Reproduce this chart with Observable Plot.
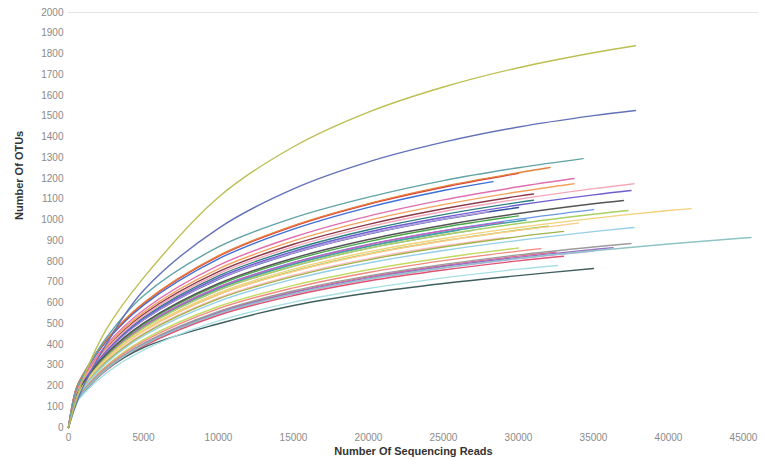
<!DOCTYPE html>
<html>
<head>
<meta charset="utf-8">
<script src="https://cdn.jsdelivr.net/npm/d3@7"></script>
<script src="https://cdn.jsdelivr.net/npm/@observablehq/plot@0.6"></script>
<style>
  html, body { margin: 0; padding: 0; background: #fff; }
  #chart { width: 765px; height: 460px; }
</style>
</head>
<body>
<div id="chart"></div>
<script>
const depths = [0, 500, 1000, 2500, 5000, 10000, 15000, 20000, 25000, 30000, 35000, 40000, 45000];

const sampleNames = [
  "S01","S02","S03","S04","S05","S06","S07","S08","S09","S10",
  "S11","S12","S13","S14","S15","S16","S17","S18","S19","S20",
  "S21","S22","S23","S24","S25","S26","S27","S28","S29","S30",
  "S31","S32","S33","S34","S35","S36","S37","S38"
];

const sampleColors = [
  "#bcbf52","#6272b8","#62a3a6","#e5823c","#df6fb0","#f2a25e","#f4aabb","#6d5fd0","#555555","#f3d27c",
  "#a9d062","#95cfe8","#8fc3c6","#9c9c9c","#9c6cc8","#a8dfe6","#3f5e5e","#d8383f","#3d6fd6","#4aa84a",
  "#c062c0","#b39ddb","#f08a80","#a3b348","#44a3a3","#ffbcc8","#ffca8c","#6a98e8","#62a0a2","#e05272",
  "#c4a6e6","#c4da64","#2f8080","#9fb0d6","#8b3a4a","#3050a0","#88d040","#e86a8a"
];

// Last point of each curve (total reads, OTUs)
const endReads = [
  37800,37800,34300,32100,33700,33700,37700,37500,37000,41500,
  37300,37700,45500,37500,36300,32600,35000,30000,28300,30000,
  29000,28000,31500,33000,30500,29000,34000,35000,26000,33000,
  35000,30000,31000,27000,31000,30000,32000,32500
];
const endOTUs = [
  1840,1528,1296,1253,1200,1175,1175,1142,1094,1055,
  1046,964,916,887,867,781,766,1225,1185,1020,
  990,1040,862,945,1000,915,985,1050,950,825,
  850,865,1095,950,1125,1060,970,845
];

// OTU counts at each depth below the curve's end
const otuValues = [
  [0,130,240,470,721,1110,1353,1520,1641,1734,1806],
  [0,110,200,400,660,960,1150,1280,1375,1448,1503],
  [0,180,255,430,635,870,1010,1110,1190,1252],
  [0,185,260,420,600,828,973,1079,1162,1228],
  [0,175,245,397,566,781,918,1019,1097,1160],
  [0,171,240,388,555,765,899,998,1074,1136],
  [0,166,233,376,538,741,871,967,1041,1100,1151],
  [0,161,226,367,524,722,849,942,1013,1072,1121],
  [0,155,218,353,503,694,816,906,975,1031,1078],
  [0,145,204,330,471,649,763,847,911,964,1008,1046],
  [0,148,208,336,480,662,778,864,929,983,1028],
  [0,136,191,309,441,608,715,793,853,902,944],
  [0,123,172,279,398,549,645,716,770,815,852,884,913],
  [0,125,176,284,406,560,659,731,786,832,870],
  [0,124,173,281,401,553,650,721,776,820,858],
  [0,115,161,261,373,514,604,670,721,763],
  [0,120,170,278,385,500,588,648,694,732],
  [0,184,259,419,598,825,970,1076,1158],
  [0,182,255,413,590,813,956,1061,1142],
  [0,154,216,349,498,687,808,896,965],
  [0,151,212,343,490,676,794,881,948],
  [0,160,225,364,519,716,842,934,1005],
  [0,128,180,291,415,573,673,747,804,850],
  [0,139,194,315,449,620,728,808,870,920],
  [0,150,210,340,486,670,788,874,941,995],
  [0,140,196,317,453,624,734,814,876],
  [0,143,201,325,464,640,752,835,899,950],
  [0,151,212,343,490,676,795,882,949,1004],
  [0,149,210,339,485,668,786,872,938],
  [0,121,170,275,392,541,636,706,759,803],
  [0,122,172,278,397,547,643,714,768,813],
  [0,130,183,296,423,583,685,760,818],
  [0,163,229,371,530,731,859,953,1026,1085],
  [0,148,207,336,480,661,777,863,928],
  [0,168,236,381,545,751,883,979,1054,1115],
  [0,160,224,363,518,714,840,932,1003],
  [0,143,201,326,465,641,754,837,900,952],
  [0,124,175,283,403,556,654,726,781,826]
];

const yTicks = d3.range(0, 2001, 100);
const xTicks = d3.range(0, 45001, 5000);
const yTitle = "Number Of OTUs";
const xTitle = "Number Of Sequencing Reads";

// Build long-format rows
const rows = [];
const order = d3.range(sampleNames.length).reverse();
for (const i of order) {
  otuValues[i].forEach((v, j) => rows.push({s: sampleNames[i], c: sampleColors[i], x: depths[j], y: v}));
  rows.push({s: sampleNames[i], c: sampleColors[i], x: endReads[i], y: endOTUs[i]});
}

const chart = Plot.plot({
  width: 765,
  height: 460,
  marginLeft: 68,
  marginRight: 7,
  marginTop: 12,
  marginBottom: 33,
  style: {fontFamily: "'Liberation Sans', Arial, sans-serif", background: "#fff"},
  x: {domain: [0, 46000]},
  y: {domain: [0, 2000]},
  color: {type: "identity"},
  marks: [
    Plot.ruleY([2000], {stroke: "#e4e4e4", strokeWidth: 1}),
    Plot.axisY({ticks: yTicks, tickSize: 0, tickPadding: 5, tickFormat: d => String(d), label: null, fontSize: 10, color: "#8a8a8a"}),
    Plot.axisX({ticks: xTicks, tickSize: 0, tickPadding: 6, tickFormat: d => String(d), label: null, fontSize: 10, color: "#8a8a8a"}),
    Plot.line(rows, {x: "x", y: "y", z: "s", stroke: "c", strokeWidth: 1.4, curve: "catmull-rom"}),
    Plot.text([yTitle], {frameAnchor: "left", text: d => d, rotate: -90, dx: -49, fontWeight: "bold", fontSize: 11, fill: "#333"}),
    Plot.text([xTitle], {frameAnchor: "bottom", text: d => d, dy: 27, fontWeight: "bold", fontSize: 11, fill: "#333"})
  ]
});
document.getElementById("chart").appendChild(chart);
</script>
</body>
</html>
